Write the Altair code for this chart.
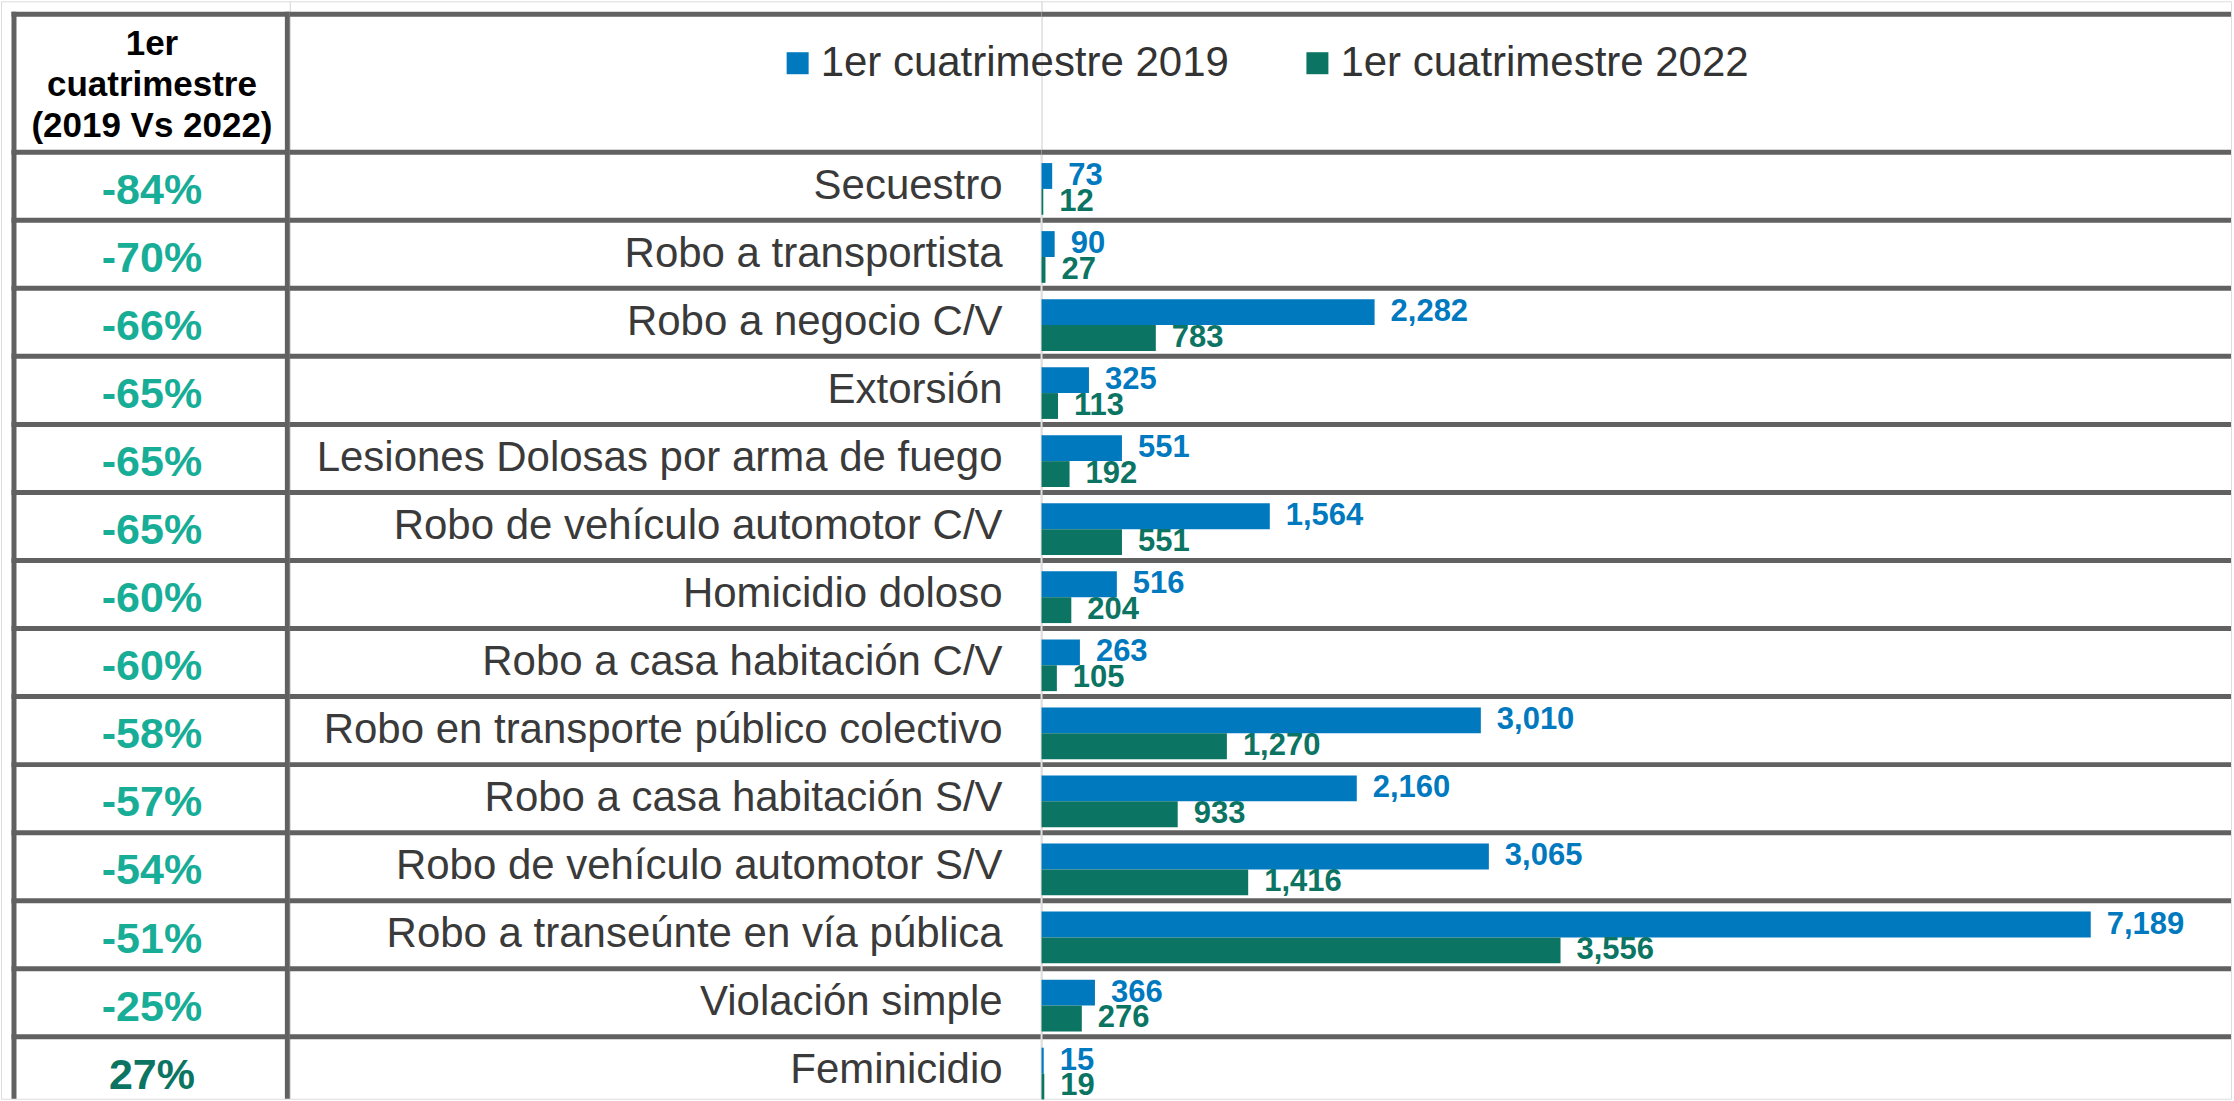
import altair as alt
import pandas as pd

# ---------------- data ----------------
categories = [
    "Secuestro",
    "Robo a transportista",
    "Robo a negocio C/V",
    "Extorsión",
    "Lesiones Dolosas por arma de fuego",
    "Robo de vehículo automotor C/V",
    "Homicidio doloso",
    "Robo a casa habitación C/V",
    "Robo en transporte público colectivo",
    "Robo a casa habitación S/V",
    "Robo de vehículo automotor S/V",
    "Robo a transeúnte en vía pública",
    "Violación simple",
    "Feminicidio",
]
v2019 = [73, 90, 2282, 325, 551, 1564, 516, 263, 3010, 2160, 3065, 7189, 366, 15]
v2022 = [12, 27, 783, 113, 192, 551, 204, 105, 1270, 933, 1416, 3556, 276, 19]
pct_change = [-84, -70, -66, -65, -65, -65, -60, -60, -58, -57, -54, -51, -25, 27]
series_names = ["1er cuatrimestre 2019", "1er cuatrimestre 2022"]
series_colors = ["#0079BF", "#0B7462"]
header_text = "1er\ncuatrimestre\n(2019 Vs 2022)"

# ---------------- layout / style ----------------
FONT = "Liberation Sans, Arial, Helvetica, sans-serif"
LINE_COLOR = "#616161"
LINE_W = 5
ROW_PX = 68.08
HEADER_BOTTOM_PX = 151
TOTAL_H = 1098
TOP_LINE_PX = 13
W_A, W_B, W_C = 289, 752, 1190
LEFT_BORDER_X = 13
Y_DOMAIN = [-HEADER_BOTTOM_PX / ROW_PX, (TOTAL_H - HEADER_BOTTOM_PX) / ROW_PX]
TABLE_TOP = (TOP_LINE_PX - HEADER_BOTTOM_PX) / ROW_PX
HEADER_BASELINE = (54 - HEADER_BOTTOM_PX) / ROW_PX
X_MAX = 8150

n = len(categories)
rows = pd.DataFrame({"row": list(range(n)), "category": categories, "pct": pct_change})

long_rows = []
for i in range(n):
    long_rows.append({"row": i, "category": categories[i], "series": series_names[0], "sidx": 0, "value": v2019[i]})
    long_rows.append({"row": i, "category": categories[i], "series": series_names[1], "sidx": 1, "value": v2022[i]})
bars = pd.DataFrame(long_rows)

hlines = pd.DataFrame({"y": [TABLE_TOP] + list(range(n))})
vline = pd.DataFrame({"y": [TABLE_TOP - 2.5 / ROW_PX], "y2": [Y_DOMAIN[1]]})
vline_c = pd.DataFrame({"y": [0.04], "y2": [Y_DOMAIN[1]]})
header = pd.DataFrame({"t": [header_text], "y": [HEADER_BASELINE]})

yscale = alt.Scale(domain=Y_DOMAIN, reverse=True, nice=False, zero=False)


def hrules(width, x0=0):
    return alt.Chart(hlines).mark_rule(color=LINE_COLOR, strokeWidth=LINE_W).encode(
        y=alt.Y("y:Q", scale=yscale, axis=None),
        x=alt.value(x0),
        x2=alt.value(width),
    )


# ---------------- Panel A: % change column ----------------
a_lines = hrules(W_A, LEFT_BORDER_X - 2.5)
a_vert = alt.Chart(vline).mark_rule(color=LINE_COLOR, strokeWidth=LINE_W).encode(
    y=alt.Y("y:Q", scale=yscale, axis=None), y2="y2:Q", x=alt.value(LEFT_BORDER_X)
)
a_vert2 = alt.Chart(vline).mark_rule(color=LINE_COLOR, strokeWidth=LINE_W).encode(
    y=alt.Y("y:Q", scale=yscale, axis=None), y2="y2:Q", x=alt.value(W_A - 2.5)
)
a_header = alt.Chart(header).mark_text(
    font=FONT, fontSize=35, fontWeight="bold", color="#000000", lineBreak="\n",
    lineHeight=41, align="center", baseline="alphabetic"
).encode(
    y=alt.Y("y:Q", scale=yscale, axis=None),
    x=alt.value((LEFT_BORDER_X + W_A) / 2),
    text="t:N",
)
a_pct = alt.Chart(rows).transform_calculate(
    yc="datum.row + 0.57", lbl="toString(datum.pct) + '%'"
).mark_text(font=FONT, fontSize=43, fontWeight="bold", align="center", baseline="middle").encode(
    y=alt.Y("yc:Q", scale=yscale, axis=None),
    x=alt.value((LEFT_BORDER_X + W_A) / 2),
    text="lbl:N",
    color=alt.condition(alt.datum.pct > 0, alt.value("#0B7462"), alt.value("#17AD97")),
)
panel_a = alt.layer(a_lines, a_vert, a_vert2, a_header, a_pct).properties(width=W_A, height=TOTAL_H)

# ---------------- Panel B: category labels ----------------
b_lines = hrules(W_B)
b_text = alt.Chart(rows).transform_calculate(yc="datum.row + 0.49").mark_text(
    font=FONT, fontSize=42, color="#3a3a3a", align="right", baseline="middle"
).encode(
    y=alt.Y("yc:Q", scale=yscale, axis=None),
    x=alt.value(W_B - 39),
    text="category:N",
)
panel_b = alt.layer(b_lines, b_text).properties(width=W_B, height=TOTAL_H)

# ---------------- Panel C: bars ----------------
color_scale = alt.Scale(domain=series_names, range=series_colors)
xscale = alt.Scale(domain=[0, X_MAX], nice=False, zero=True)

c_lines = hrules(W_C)
c_base = alt.Chart(vline_c).mark_rule(color="#e0e0e0", strokeWidth=2).encode(
    y=alt.Y("y:Q", scale=yscale, axis=None), y2="y2:Q", x=alt.value(0)
)
c_bars = alt.Chart(bars).transform_calculate(
    y0="datum.row + 0.16 + datum.sidx * 0.38",
    y1="datum.row + 0.54 + datum.sidx * 0.38",
    base="0",
).mark_rect().encode(
    x=alt.X("base:Q", scale=xscale, axis=None),
    x2="value:Q",
    y=alt.Y("y0:Q", scale=yscale, axis=None),
    y2="y1:Q",
    color=alt.Color(
        "series:N",
        scale=color_scale,
        legend=alt.Legend(
            title=None,
            orient="none",
            direction="horizontal",
            legendX=776,
            legendY=41,
            symbolType="square",
            symbolSize=484,
            symbolStrokeWidth=0,
            labelFont=FONT,
            labelFontSize=42,
            labelColor="#333333",
            labelOffset=2,
            labelLimit=1000,
            columnPadding=67,
            padding=0,
        ),
    ),
)
c_vals = alt.Chart(bars).transform_calculate(
    yc="datum.row + 0.35 + datum.sidx * 0.38"
).mark_text(font=FONT, fontSize=31, fontWeight="bold", align="left", baseline="middle", dx=16).encode(
    x=alt.X("value:Q", scale=xscale, axis=None),
    y=alt.Y("yc:Q", scale=yscale, axis=None),
    text=alt.Text("value:Q", format=","),
    color=alt.Color("series:N", scale=color_scale, legend=None),
)
panel_c = alt.layer(c_lines, c_base, c_bars, c_vals).properties(width=W_C, height=TOTAL_H)

chart = (
    alt.hconcat(panel_a, panel_b, panel_c, spacing=0, bounds="flush")
    .properties(padding=0, background="white")
    .configure_view(stroke="transparent", strokeWidth=0)
    .configure(font=FONT)
)

chart.save("out.html", embed_options={"renderer": "svg", "actions": False})
